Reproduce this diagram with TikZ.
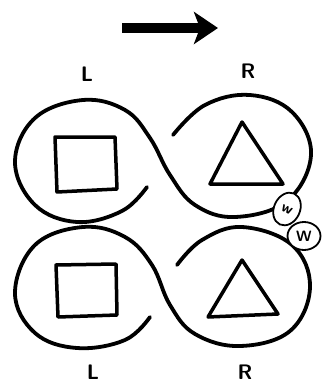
\documentclass[tikz,border=0pt]{standalone}
\usetikzlibrary{arrows.meta,shapes.geometric}
\begin{document}
\begin{tikzpicture}[x=1pt,y=-1pt,
  loop/.style={line width=3.8pt,line cap=round,line join=round},
  shapeline/.style={line width=3.5pt,line join=round},
  lbl/.style={font=\fontsize{21}{21}\selectfont\sffamily\bfseries,inner sep=0pt},
  blob/.style={draw,fill=white,line width=1.8pt,ellipse,inner sep=0pt},
  blobtxt/.style={font=\fontsize{15}{15}\selectfont\sffamily\bfseries}]
\useasboundingbox (0,0) rectangle (324,385);
% arrow
\draw[line width=10pt,-{Stealth[length=24pt,width=32pt,inset=6pt]}] (122,28) -- (218,28);
% labels
\node[lbl] (Ltop) at (87,74) {L};
\node[lbl] (Rtop) at (248,71) {R};
\node[lbl] (Lbot) at (93,372) {L};
\node[lbl] (Rbot) at (245,372) {R};
% top row loop
\draw[loop] plot[smooth,tension=0.65] coordinates {(147,187) (122,211) (77,222) (35,205) (15,162) (35,118) (83,100) (125,110) (150,138) (170,175) (195,205) (235,217) (287,201) (311,155) (292,112) (250,95) (205,105) (173,135)};
% bottom row loop
\draw[loop] plot[smooth,tension=0.65] coordinates {(150,317) (125,340) (77,348) (35,333) (15,293) (35,245) (83,227) (125,237) (152,265) (170,305) (195,334) (240,346) (290,331) (310,287) (292,245) (242,227) (202,240) (177,265)};
% squares
\draw[shapeline] (55,137) -- (115,137) -- (117,189) -- (57,192) -- cycle;
\draw[shapeline] (56,265) -- (116,264) -- (117,315) -- (58,317) -- cycle;
% triangles
\draw[shapeline] (242,122) -- (283,184) -- (210,184) -- cycle;
\draw[shapeline] (242,260) -- (278,314) -- (208,317) -- cycle;
% small blobs
\node[blob,minimum width=26pt,minimum height=34pt,rotate=-25] (b1) at (287,209) {};
\node[blobtxt,rotate=-25] (w1) at (287,210) {w};
\node[blob,minimum width=33pt,minimum height=28pt] (b2) at (304,236) {};
\node[blobtxt] (w2) at (304,236) {W};
\end{tikzpicture}
\end{document}
